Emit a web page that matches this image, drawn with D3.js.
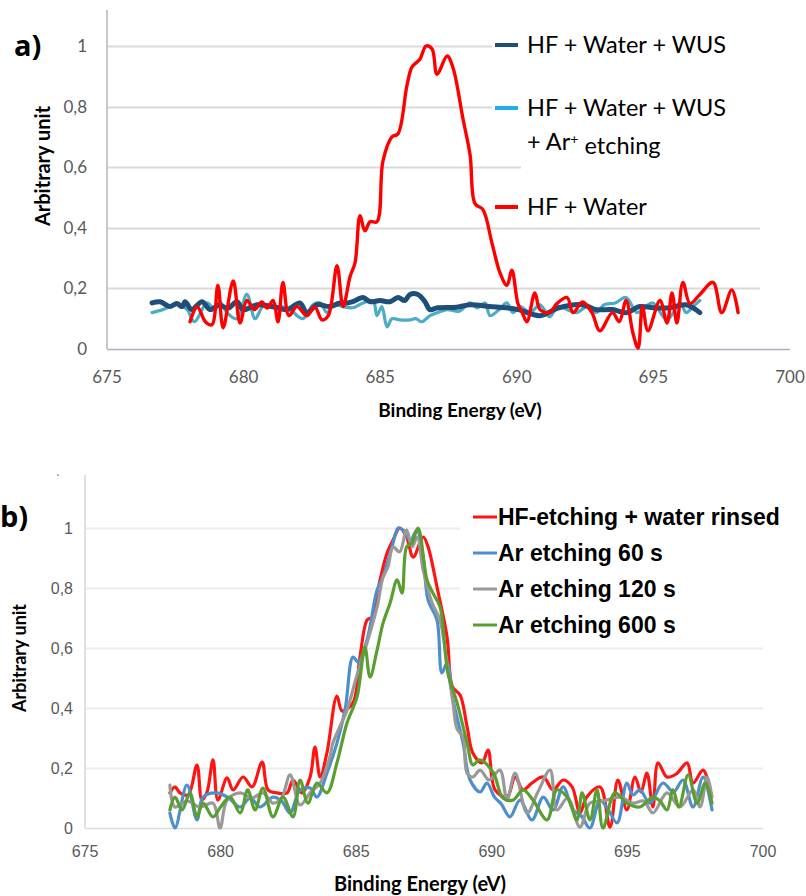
<!DOCTYPE html>
<html>
<head>
<meta charset="utf-8">
<script src="https://cdn.jsdelivr.net/npm/d3@7"></script>
<style>
  body { margin: 0; background: #fff; }
  svg { display: block; }
</style>
</head>
<body>
<svg id="chart" width="806" height="896"></svg>
<script>
// ---- data (binding energy eV, arbitrary unit) ----
var yTicks = [0, 0.2, 0.4, 0.6, 0.8, 1];
var xTicks = [675, 680, 685, 690, 695, 700];

// panel a
var aWus = [[676.65,0.152],[676.94,0.156],[677.3,0.14],[677.55,0.15],[677.75,0.14],[677.86,0.156],[678.1,0.13],[678.48,0.156],[678.77,0.13],[679.1,0.145],[679.43,0.135],[679.76,0.156],[679.98,0.13],[680.49,0.146],[681.08,0.14],[681.59,0.13],[682.06,0.152],[682.32,0.12],[682.69,0.146],[683.16,0.14],[683.53,0.152],[683.8,0.152],[684.0,0.156],[684.37,0.17],[684.63,0.156],[684.99,0.16],[685.36,0.156],[685.65,0.17],[685.9,0.16],[686.09,0.18],[686.38,0.18],[686.64,0.156],[686.82,0.13],[687.1,0.136],[687.8,0.138],[688.3,0.146],[689.0,0.14],[689.6,0.136],[690.05,0.13],[690.85,0.11],[691.5,0.135],[692.4,0.146],[692.9,0.13],[693.5,0.13],[694.0,0.12],[694.5,0.14],[695.0,0.136],[695.6,0.136],[696.2,0.146],[696.7,0.12]];
var aWusAr = [[676.65,0.12],[677.05,0.13],[677.56,0.146],[677.93,0.13],[678.2,0.09],[678.66,0.152],[678.95,0.13],[679.13,0.156],[679.39,0.12],[679.76,0.1],[680.12,0.18],[680.42,0.1],[680.71,0.14],[681.08,0.136],[681.4,0.14],[681.7,0.13],[682.17,0.1],[682.54,0.146],[682.8,0.152],[683.05,0.12],[683.27,0.146],[683.64,0.14],[684.0,0.136],[684.37,0.152],[684.74,0.16],[684.88,0.11],[685.06,0.14],[685.25,0.073],[685.43,0.1],[685.72,0.096],[686.09,0.096],[686.3,0.1],[686.53,0.09],[686.82,0.11],[687.08,0.12],[687.45,0.13],[687.9,0.125],[688.29,0.152],[688.55,0.136],[688.84,0.152],[689.02,0.11],[689.35,0.13],[689.64,0.152],[689.86,0.12],[690.12,0.14],[690.48,0.12],[690.85,0.146],[691.2,0.106],[691.5,0.14],[691.85,0.13],[692.2,0.12],[692.57,0.14],[692.9,0.12],[693.2,0.146],[693.6,0.152],[694.0,0.17],[694.4,0.12],[694.7,0.14],[694.98,0.152],[695.5,0.096],[695.97,0.152],[696.2,0.12],[696.45,0.14],[696.7,0.16]];
var aWater = [[678.04,0.09],[678.3,0.14],[678.6,0.09],[678.84,0.08],[679.06,0.21],[679.25,0.07],[679.62,0.225],[679.87,0.086],[680.12,0.16],[680.4,0.13],[680.67,0.155],[680.86,0.135],[681.08,0.16],[681.26,0.09],[681.44,0.22],[681.66,0.11],[681.95,0.14],[682.32,0.11],[682.6,0.14],[682.87,0.096],[683.1,0.11],[683.42,0.275],[683.64,0.14],[683.9,0.24],[684.08,0.285],[684.26,0.44],[684.44,0.39],[684.63,0.42],[684.88,0.42],[685.1,0.62],[685.43,0.7],[685.65,0.71],[685.98,0.87],[686.16,0.93],[686.35,0.947],[686.46,0.957],[686.68,1.0],[686.9,0.99],[687.08,0.907],[687.45,0.967],[687.66,0.93],[688.03,0.76],[688.29,0.64],[688.47,0.48],[688.76,0.46],[689.09,0.35],[689.39,0.25],[689.64,0.21],[689.82,0.26],[690.04,0.15],[690.2,0.12],[690.37,0.09],[690.66,0.185],[690.85,0.13],[691.2,0.12],[691.47,0.15],[691.84,0.17],[692.06,0.12],[692.4,0.155],[692.75,0.12],[693.04,0.06],[693.5,0.12],[693.75,0.09],[694.0,0.16],[694.25,0.053],[694.44,0.003],[694.6,0.14],[694.8,0.06],[695.24,0.16],[695.5,0.086],[695.68,0.185],[695.86,0.086],[696.08,0.22],[696.34,0.15],[696.7,0.18],[697.18,0.22],[697.5,0.12],[697.87,0.195],[698.1,0.12]];

// panel b
var bHf = [[678.13,0.117],[678.32,0.137],[678.5,0.117],[678.8,0.11],[679.13,0.21],[679.31,0.093],[679.5,0.12],[679.72,0.227],[679.9,0.093],[680.24,0.167],[680.46,0.127],[680.83,0.17],[681.16,0.137],[681.53,0.22],[681.75,0.127],[682.08,0.117],[682.45,0.117],[682.67,0.16],[683.0,0.117],[683.3,0.17],[683.48,0.27],[683.67,0.17],[683.92,0.25],[684.29,0.44],[684.48,0.39],[684.88,0.417],[685.14,0.57],[685.4,0.693],[685.58,0.703],[685.88,0.827],[686.14,0.917],[686.36,0.96],[686.6,1.0],[686.86,0.97],[687.1,0.903],[687.47,0.97],[687.65,0.937],[687.98,0.803],[688.35,0.637],[688.55,0.47],[688.83,0.443],[689.09,0.337],[689.3,0.25],[689.64,0.217],[689.86,0.26],[690.12,0.127],[690.56,0.103],[690.86,0.17],[691.15,0.127],[691.48,0.15],[691.9,0.17],[692.26,0.127],[692.63,0.16],[692.96,0.137],[693.25,0.05],[693.5,0.103],[693.99,0.137],[694.36,0.003],[694.65,0.16],[694.98,0.06],[695.28,0.17],[695.5,0.12],[695.72,0.183],[695.94,0.07],[696.13,0.217],[696.46,0.17],[696.8,0.18],[697.2,0.217],[697.42,0.15],[697.79,0.193],[698.05,0.127]];
var b60 = [[678.13,0.05],[678.32,0.0],[678.76,0.143],[679.13,0.027],[679.35,0.103],[679.87,0.117],[680.3,0.1],[680.72,0.07],[681.1,0.1],[681.45,0.07],[681.93,0.103],[682.25,0.09],[682.56,0.05],[682.93,0.127],[683.3,0.133],[683.55,0.103],[683.92,0.183],[684.29,0.283],[684.6,0.4],[684.88,0.57],[685.07,0.553],[685.4,0.627],[685.77,0.793],[685.99,0.837],[686.32,0.937],[686.55,1.0],[686.73,0.993],[687.0,0.96],[687.24,0.993],[687.47,0.903],[687.65,0.76],[687.98,0.693],[688.16,0.517],[688.35,0.55],[688.57,0.427],[688.94,0.283],[689.2,0.16],[689.57,0.12],[689.82,0.15],[690.1,0.103],[690.35,0.08],[690.67,0.037],[691.04,0.093],[691.48,0.027],[691.9,0.103],[692.26,0.06],[692.63,0.137],[693.0,0.06],[693.3,0.04],[693.62,0.0],[693.99,0.093],[694.3,0.06],[694.62,0.017],[694.98,0.15],[695.2,0.11],[695.46,0.127],[695.83,0.083],[696.31,0.15],[696.7,0.12],[697.05,0.16],[697.42,0.07],[697.79,0.17],[698.12,0.06]];
var b120 = [[678.13,0.143],[678.32,0.07],[678.76,0.09],[679.24,0.07],[679.72,0.083],[679.98,0.0],[680.24,0.093],[680.72,0.117],[681.15,0.1],[681.56,0.117],[681.93,0.083],[682.25,0.1],[682.56,0.177],[682.93,0.077],[683.3,0.117],[683.67,0.15],[684.03,0.237],[684.14,0.283],[684.66,0.393],[685.0,0.5],[685.4,0.617],[685.77,0.737],[685.99,0.837],[686.17,0.87],[686.36,0.937],[686.6,0.92],[686.86,0.993],[687.06,0.937],[687.25,0.97],[687.47,0.86],[687.8,0.75],[688.09,0.693],[688.35,0.55],[688.57,0.417],[688.72,0.33],[688.94,0.303],[689.09,0.183],[689.3,0.17],[689.57,0.193],[689.9,0.16],[690.3,0.193],[690.56,0.093],[690.86,0.183],[691.3,0.05],[691.7,0.12],[692.15,0.193],[692.4,0.06],[692.8,0.1],[693.25,0.003],[693.62,0.083],[694.1,0.09],[694.73,0.103],[695.2,0.083],[695.6,0.09],[695.94,0.05],[696.46,0.117],[696.94,0.07],[697.42,0.127],[697.68,0.07],[697.94,0.17],[698.12,0.103]];
var b600 = [[678.13,0.06],[678.32,0.103],[678.58,0.06],[678.87,0.117],[679.13,0.037],[679.35,0.083],[679.72,0.037],[680.0,0.07],[680.35,0.103],[680.72,0.05],[681.0,0.127],[681.27,0.06],[681.56,0.133],[681.93,0.037],[682.3,0.103],[682.67,0.037],[682.93,0.16],[683.22,0.083],[683.55,0.15],[683.92,0.117],[684.29,0.217],[684.66,0.35],[685.03,0.437],[685.32,0.603],[685.51,0.503],[685.77,0.593],[685.99,0.683],[686.25,0.75],[686.51,0.827],[686.69,0.783],[686.86,0.937],[687.05,0.95],[687.28,1.0],[687.61,0.827],[687.83,0.783],[688.09,0.737],[688.38,0.517],[688.72,0.417],[689.09,0.283],[689.3,0.21],[689.55,0.227],[690.05,0.185],[690.41,0.1],[690.78,0.093],[691.15,0.127],[691.52,0.093],[692.04,0.027],[692.4,0.127],[692.8,0.1],[693.14,0.027],[693.33,0.117],[693.62,0.027],[693.88,0.127],[694.1,0.0],[694.54,0.117],[694.98,0.083],[695.46,0.07],[695.94,0.103],[696.2,0.09],[696.46,0.06],[696.68,0.127],[696.9,0.07],[697.24,0.177],[697.57,0.083],[697.87,0.15],[698.12,0.083]];

var svg = d3.select("#chart");

function drawPanel(p) {
  var x = d3.scaleLinear().domain([675, 700]).range(p.xr);
  var y = d3.scaleLinear().domain([0, 1]).range(p.yr);
  var g = svg.append("g");

  // gridlines
  g.selectAll(".grid").data(yTicks.slice(1)).enter().append("line")
    .attr("x1", p.xr[0]).attr("x2", p.gridEnd)
    .attr("y1", function(d) { return Math.round(y(d)) + 0.5; })
    .attr("y2", function(d) { return Math.round(y(d)) + 0.5; })
    .attr("stroke", p.gridColor).attr("stroke-width", p.gridW);

  // x axis line
  g.append("line")
    .attr("x1", p.xr[0]).attr("x2", p.xr[1])
    .attr("y1", Math.round(y(0)) + 0.5).attr("y2", Math.round(y(0)) + 0.5)
    .attr("stroke", p.xAxisColor).attr("stroke-width", 1.5);
  // y axis line
  g.append("line")
    .attr("x1", p.xr[0]).attr("x2", p.xr[0])
    .attr("y1", p.yTop).attr("y2", y(0))
    .attr("stroke", p.yAxisColor).attr("stroke-width", 2);

  // tick labels
  g.selectAll(".yt").data(yTicks).enter().append("text")
    .attr("x", p.xr[0] - p.yLabOff).attr("y", function(d) { return y(d); })
    .attr("dy", "0.35em").attr("text-anchor", "end")
    .style("font-family", p.tickFont).style("font-size", p.tickSize + "px")
    .attr("fill", "#595959")
    .text(function(d) { return d3.format("")(d).replace(".", ","); });
  g.selectAll(".xt").data(xTicks).enter().append("text")
    .attr("x", function(d) { return x(d); }).attr("y", p.xLabY)
    .attr("text-anchor", "middle")
    .style("font-family", p.tickFont).style("font-size", p.tickSize + "px")
    .attr("fill", "#595959")
    .text(function(d) { return d; });

  // axis titles
  g.append("text").attr("x", p.xTitle[0]).attr("y", p.xTitle[1])
    .attr("text-anchor", "middle")
    .style("font-family", "Lato, 'Open Sans', sans-serif").style("font-weight", "bold")
    .style("font-size", p.xTitleSize + "px").attr("fill", "#000").text("Binding Energy (eV)");
  g.append("text")
    .attr("transform", "translate(" + p.yTitle[0] + "," + p.yTitle[1] + ") rotate(-90)")
    .attr("text-anchor", "middle")
    .style("font-family", "Lato, 'Open Sans', sans-serif").style("font-weight", "bold")
    .style("font-size", p.yTitleSize + "px").attr("fill", "#000").text("Arbitrary unit");

  // panel letter
  g.append("text").attr("x", p.letter[0]).attr("y", p.letter[1])
    .style("font-family", "'Open Sans', sans-serif").style("font-weight", "bold")
    .style("font-size", "29px").attr("fill", "#000").text(p.letterText);

  // legend background hides gridlines
  p.legendBg.forEach(function(r) {
    g.append("rect").attr("x", r[0]).attr("y", r[1]).attr("width", r[2]).attr("height", r[3])
      .attr("fill", "#fff");
  });

  var line = d3.line()
    .x(function(d) { return x(d[0]); })
    .y(function(d) { return y(d[1]); })
    .curve(d3.curveCatmullRom.alpha(0.5));

  p.series.forEach(function(s) {
    g.append("path").datum(s.data)
      .attr("d", line)
      .attr("fill", "none")
      .attr("stroke", s.color)
      .attr("stroke-width", s.width)
      .attr("stroke-linejoin", "round").attr("stroke-linecap", "round");
  });

  // legend
  p.legend.forEach(function(s) {
    g.append("line")
      .attr("x1", p.legX).attr("x2", p.legX + p.legLen)
      .attr("y1", s.y).attr("y2", s.y)
      .attr("stroke", s.legColor || s.color).attr("stroke-width", p.legW);
    s.lines.forEach(function(t, i) {
      var tx = g.append("text")
        .attr("x", p.legX + p.legLen + p.legGap).attr("y", s.y + i * p.legLine)
        .attr("dy", "0.35em")
        .style("font-family", p.legFont).style("font-weight", p.legWeight)
        .style("font-size", p.legSize + "px").attr("fill", "#000");
      if (typeof t === "object") {
        tx.append("tspan").text(t.pre);
        tx.append("tspan").attr("dy", "-0.45em").style("font-size", (p.legSize * 0.6) + "px").text(t.sup);
        tx.append("tspan").attr("dy", "0.45em").text(t.post);
      } else {
        tx.text(t);
      }
    });
  });
}

drawPanel({
  xr: [107, 790], yr: [349, 46], yTop: 10, gridEnd: 760,
  gridColor: "#d9d9d9", gridW: 2, xAxisColor: "#a9b1c0", yAxisColor: "#c8c8c8",
  yLabOff: 20, xLabY: 383, tickFont: "Lato, 'Open Sans', sans-serif", tickSize: 17,
  xTitle: [460, 417], yTitle: [50, 166], xTitleSize: 19, yTitleSize: 20,
  letter: [14, 56], letterText: "a)",
  legendBg: [[492, 28, 275, 90], [521, 125, 245, 58]],
  series: [
    { data: aWusAr, color: "#4bacc6", width: 3.2 },
    { data: aWus, color: "#1f4e79", width: 5 },
    { data: aWater, color: "#ff0000", width: 3.4 }
  ],
  legX: 495, legLen: 23, legGap: 9, legW: 4, legLine: 34,
  legFont: "Lato, 'Open Sans', sans-serif", legWeight: "normal", legSize: 23.5,
  legend: [
    { y: 45, color: "#1f4e79", lines: ["HF + Water + WUS"] },
    { y: 108, color: "#22aee6", lines: ["HF + Water + WUS", { pre: "+ Ar", sup: "+", post: " etching" }] },
    { y: 207, color: "#ff0000", lines: ["HF + Water"] }
  ]
});

drawPanel({
  xr: [85, 763], yr: [828, 528], yTop: 475, gridEnd: 763,
  gridColor: "#ececec", gridW: 2, xAxisColor: "#dcdcdc", yAxisColor: "#e0e0e0",
  yLabOff: 12, xLabY: 857, tickFont: "'Liberation Sans', Arial, sans-serif", tickSize: 16,
  xTitle: [420, 891], yTitle: [26, 658], xTitleSize: 20, yTitleSize: 18,
  letter: [0, 527], letterText: "b)",
  legendBg: [[460, 500, 330, 100]],
  series: [
    { data: bHf, color: "#ff1414", width: 3.2 },
    { data: b60, color: "#4d8fcc", width: 3.2 },
    { data: b120, color: "#999999", width: 3.2 },
    { data: b600, color: "#5a9e32", width: 3.2 }
  ],
  legX: 473, legLen: 24, legGap: 1, legW: 3, legLine: 0,
  legFont: "'Liberation Sans', Arial, sans-serif", legWeight: "bold", legSize: 23,
  legend: [
    { y: 517, color: "#ff1414", lines: ["HF-etching + water rinsed"] },
    { y: 553, color: "#4d8fcc", lines: ["Ar etching 60 s"] },
    { y: 589, color: "#999999", lines: ["Ar etching 120 s"] },
    { y: 625, color: "#5a9e32", lines: ["Ar etching 600 s"] }
  ]
});

// small stray mark at top of panel b axis
svg.append("circle").attr("cx", 58).attr("cy", 475).attr("r", 1).attr("fill", "#999");
</script>
</body>
</html>
